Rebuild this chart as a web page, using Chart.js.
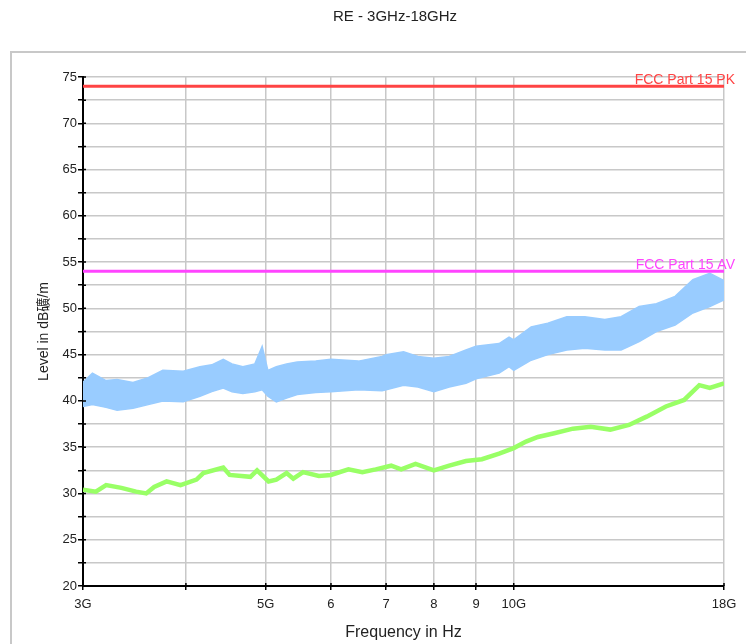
<!DOCTYPE html>
<html>
<head>
<meta charset="utf-8">
<title>RE - 3GHz-18GHz</title>
<script src="https://cdn.jsdelivr.net/npm/chart.js@4.4.1/dist/chart.umd.min.js"></script>
<style>
  html, body { margin: 0; padding: 0; background: #fff; }
  #wrap { width: 746px; height: 644px; }
</style>
</head>
<body>
<div id="wrap"><canvas id="re"></canvas></div>
<script>
// peak trace, drawn as a band between its upper and lower edge (GHz / dBuV/m)
const peakFreq = [3.00, 3.08, 3.20, 3.30, 3.45, 3.60, 3.75, 3.97, 4.16, 4.30, 4.44, 4.55, 4.69, 4.85, 4.95, 5.03, 5.15, 5.30, 5.46, 5.75, 6.00, 6.48, 6.92, 7.00, 7.35, 7.65, 8.00, 8.35, 8.75, 9.00, 9.60, 9.87, 10.0, 10.5, 11.0, 11.6, 12.2, 12.9, 13.5, 14.2, 14.9, 15.7, 16.5, 17.3, 18.0];
const peakHigh = [42.0, 43.0, 42.2, 42.3, 42.0, 42.5, 43.3, 43.2, 43.7, 43.9, 44.5, 44.0, 43.7, 44.0, 45.9, 43.3, 43.7, 44.0, 44.2, 44.3, 44.5, 44.3, 44.8, 45.0, 45.3, 44.8, 44.6, 44.8, 45.5, 45.9, 46.2, 46.9, 46.6, 48.0, 48.4, 49.1, 49.1, 48.8, 49.1, 50.2, 50.5, 51.3, 53.1, 53.8, 53.0];
const peakLow = [39.4, 39.6, 39.3, 39.0, 39.2, 39.6, 40.0, 39.9, 40.5, 41.0, 41.4, 41.0, 40.8, 41.0, 41.2, 40.5, 39.9, 40.3, 40.7, 40.9, 41.0, 41.2, 41.1, 41.2, 41.7, 41.5, 41.0, 41.5, 41.9, 42.4, 43.0, 43.7, 43.3, 44.4, 45.0, 45.5, 45.7, 45.5, 45.5, 46.4, 47.5, 48.2, 49.5, 50.2, 50.9];

// average trace
const avgFreq = [3.00, 3.11, 3.20, 3.34, 3.48, 3.58, 3.66, 3.79, 3.94, 4.12, 4.20, 4.44, 4.52, 4.79, 4.88, 5.04, 5.15, 5.30, 5.40, 5.55, 5.80, 6.00, 6.30, 6.55, 6.80, 7.10, 7.30, 7.60, 8.00, 8.35, 8.75, 9.15, 9.60, 10.0, 10.35, 10.7, 11.2, 11.8, 12.4, 13.1, 13.8, 14.5, 15.3, 16.1, 16.8, 17.3, 18.0];
const avgLevel = [30.4, 30.2, 30.9, 30.6, 30.2, 30.0, 30.7, 31.3, 30.9, 31.5, 32.2, 32.8, 32.0, 31.8, 32.5, 31.3, 31.5, 32.2, 31.6, 32.3, 31.9, 32.0, 32.6, 32.3, 32.6, 33.0, 32.6, 33.2, 32.5, 33.0, 33.5, 33.7, 34.3, 34.9, 35.6, 36.1, 36.5, 37.0, 37.2, 36.9, 37.4, 38.3, 39.4, 40.1, 41.7, 41.4, 41.9];

// limits
const limitFreq = [3, 18];
const limitPK = [74, 74];
const limitAV = [54, 54];
const limitNames = ['FCC Part 15 PK', 'FCC Part 15 AV'];

// axes
const freqTicks = [3, 4, 5, 6, 7, 8, 9, 10, 18];
const freqTickLabels = ['3G', '', '5G', '6', '7', '8', '9', '10G', '18G'];

const pts = (xs, ys) => xs.map((x, i) => ({ x: x, y: ys[i] }));

Chart.defaults.font.family = "'Liberation Sans', Arial, 'Noto Sans CJK SC', sans-serif";
Chart.defaults.color = '#222';

// outer frame, title, limit captions and the short inner tick marks
const decor = {
  id: 'decor',
  beforeDraw(chart) {
    const ctx = chart.ctx;
    ctx.save();
    ctx.fillStyle = '#fff';
    ctx.fillRect(0, 0, chart.width, chart.height);
    ctx.strokeStyle = '#c8c8c8';
    ctx.lineWidth = 2;
    ctx.strokeRect(11, 52, chart.width, chart.height);
    ctx.fillStyle = '#222';
    ctx.font = "15px 'Liberation Sans', Arial, sans-serif";
    ctx.textAlign = 'center';
    ctx.textBaseline = 'middle';
    ctx.fillText('RE - 3GHz-18GHz', 395, 17);
    ctx.restore();
  },
  afterDraw(chart) {
    const ctx = chart.ctx;
    const area = chart.chartArea;
    const xs = chart.scales.x, ys = chart.scales.y;
    ctx.save();
    ctx.strokeStyle = '#000';
    ctx.lineWidth = 1.5;
    ctx.beginPath();
    ys.ticks.forEach(t => {
      const py = ys.getPixelForValue(t.value);
      ctx.moveTo(area.left, py);
      ctx.lineTo(area.left + 3, py);
    });
    xs.ticks.forEach(t => {
      const px = xs.getPixelForValue(t.value);
      ctx.moveTo(px, area.bottom);
      ctx.lineTo(px, area.bottom - 3);
    });
    ctx.stroke();
    ctx.font = "14px 'Liberation Sans', Arial, sans-serif";
    ctx.textAlign = 'right';
    ctx.textBaseline = 'alphabetic';
    [[limitPK[1], '#ff4444', limitNames[0]], [limitAV[1], '#ff44ff', limitNames[1]]].forEach(l => {
      ctx.fillStyle = l[1];
      ctx.fillText(l[2], area.right + 11, ys.getPixelForValue(l[0]) - 2);
    });
    ctx.restore();
  }
};

new Chart(document.getElementById('re'), {
  type: 'line',
  data: {
    datasets: [
      { label: 'PK limit', data: pts(limitFreq, limitPK), borderColor: '#ff4444', borderWidth: 3 },
      { label: 'AV limit', data: pts(limitFreq, limitAV), borderColor: '#ff44ff', borderWidth: 3 },
      { label: 'Average', data: pts(avgFreq, avgLevel), borderColor: '#99ff66', borderWidth: 4.5 },
      { label: 'Peak', data: pts(peakFreq, peakHigh), borderColor: '#99ccff', backgroundColor: '#99ccff', borderWidth: 1.5, fill: '+1' },
      { label: 'Peak low', data: pts(peakFreq, peakLow), borderColor: '#99ccff', borderWidth: 1.5 }
    ]
  },
  options: {
    responsive: true,
    maintainAspectRatio: false,
    animation: false,
    layout: { padding: { left: 36, right: 22, top: 77, bottom: 0 } },
    elements: { point: { radius: 0 }, line: { tension: 0 } },
    plugins: {
      legend: { display: false },
      tooltip: { enabled: false }
    },
    scales: {
      x: {
        type: 'logarithmic',
        min: 3,
        max: 18,
        afterBuildTicks: s => { s.ticks = freqTicks.map(v => ({ value: v })); },
        afterFit: s => { s.height = 58; },
        ticks: {
          autoSkip: false,
          maxRotation: 0,
          padding: 7,
          font: { size: 13 },
          callback: (v, i) => freqTickLabels[i]
        },
        grid: { color: '#c8c8c8', lineWidth: 1.5, tickLength: 4, tickColor: '#000', tickWidth: 1.5 },
        border: { color: '#000', width: 2 },
        title: { display: true, text: 'Frequency in Hz', font: { size: 16 }, padding: { top: 0, bottom: 2 } }
      },
      y: {
        min: 20,
        max: 75,
        afterFit: s => { s.width = 47; },
        ticks: {
          stepSize: 2.5,
          padding: 1,
          font: { size: 13 },
          callback: v => (v % 5 === 0 ? v : '')
        },
        grid: { color: '#c8c8c8', lineWidth: 1.5, tickLength: 5, tickColor: '#000', tickWidth: 1.5 },
        border: { color: '#000', width: 2 },
        title: { display: true, text: 'Level in dB礦/m', font: { size: 14 }, padding: { top: 0, bottom: 0 } }
      }
    }
  },
  plugins: [decor]
});
</script>
</body>
</html>
